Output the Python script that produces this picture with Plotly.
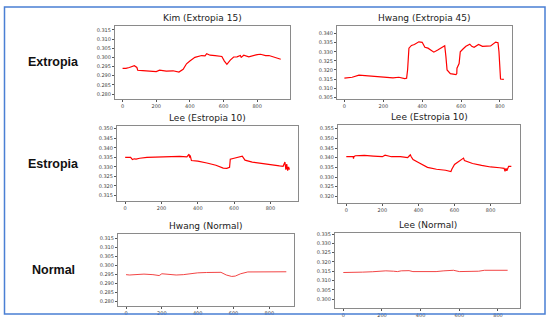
import plotly.graph_objects as go

# ---------- data ----------
kim_x = [0, 20, 40, 70, 85, 90, 120, 160, 200, 220, 260, 300, 320, 335, 360, 380, 400, 430, 470, 490, 500, 520, 550, 590, 605, 620, 640, 660, 680, 700, 705, 720, 750, 780, 800, 820, 850, 870, 900, 940]
kim_y = [0.2940, 0.2940, 0.2945, 0.2955, 0.2945, 0.2930, 0.2928, 0.2925, 0.2923, 0.2930, 0.2925, 0.2927, 0.2925, 0.2920, 0.2935, 0.2965, 0.2980, 0.3000, 0.3010, 0.3008, 0.3020, 0.3012, 0.3010, 0.3005, 0.2980, 0.2962, 0.2985, 0.3002, 0.3003, 0.3010, 0.3000, 0.3012, 0.3003, 0.3012, 0.3015, 0.3017, 0.3010, 0.3010, 0.3003, 0.2990]

hwe_x = [0, 40, 75, 100, 150, 200, 250, 280, 310, 320, 325, 332, 345, 360, 383, 400, 414, 430, 460, 480, 500, 516, 522, 528, 545, 567, 574, 578, 579, 590, 596, 610, 625, 645, 655, 667, 690, 710, 752, 778, 790, 795, 800, 803, 820]
hwe_y = [0.3155, 0.3160, 0.3172, 0.3170, 0.3163, 0.3160, 0.3157, 0.3160, 0.3152, 0.3155, 0.3200, 0.3320, 0.3335, 0.3340, 0.3355, 0.3352, 0.3325, 0.3320, 0.3298, 0.3310, 0.3325, 0.3333, 0.3275, 0.3200, 0.3180, 0.3175, 0.3175, 0.3180, 0.3210, 0.3235, 0.3300, 0.3315, 0.3330, 0.3342, 0.3330, 0.3325, 0.3340, 0.3330, 0.3332, 0.3353, 0.3350, 0.3300, 0.3220, 0.3150, 0.3148]

lee1_x = [0, 30, 40, 50, 60, 80, 120, 200, 250, 300, 340, 352, 355, 358, 365, 400, 450, 500, 540, 560, 575, 579, 600, 630, 645, 660, 700, 750, 800, 850, 870, 880, 885, 890, 895, 900, 905]
lee1_y = [0.3350, 0.3350, 0.3338, 0.3342, 0.3340, 0.3345, 0.3350, 0.3352, 0.3357, 0.3355, 0.3352, 0.3366, 0.3348, 0.3360, 0.3333, 0.3330, 0.3320, 0.3308, 0.3293, 0.3292, 0.3297, 0.3340, 0.3345, 0.3350, 0.3356, 0.3335, 0.3325, 0.3318, 0.3310, 0.3305, 0.3303, 0.3325, 0.3285, 0.3314, 0.3280, 0.3300, 0.3285]

lee2_x = [0, 38, 40, 42, 50, 100, 150, 200, 215, 250, 300, 340, 350, 355, 360, 370, 400, 450, 500, 550, 580, 585, 600, 620, 640, 650, 655, 670, 700, 750, 800, 850, 875, 880, 885, 890, 900, 915]
lee2_y = [0.3405, 0.3405, 0.3395, 0.3405, 0.3410, 0.3412, 0.3408, 0.3405, 0.3413, 0.3405, 0.3405, 0.3400, 0.3410, 0.3415, 0.3405, 0.3390, 0.3375, 0.3350, 0.3340, 0.3335, 0.3328, 0.3340, 0.3365, 0.3378, 0.3390, 0.3398, 0.3385, 0.3380, 0.3370, 0.3360, 0.3352, 0.3348, 0.3345, 0.3330, 0.3345, 0.3332, 0.3355, 0.3355]

hwn_x = [0, 20, 50, 100, 150, 185, 200, 230, 280, 320, 400, 450, 500, 530, 560, 590, 610, 640, 680, 750, 800, 850, 895]
hwn_y = [0.2950, 0.2948, 0.2950, 0.2953, 0.2950, 0.2945, 0.2955, 0.2952, 0.2948, 0.2950, 0.2960, 0.2962, 0.2965, 0.2963, 0.2948, 0.2940, 0.2942, 0.2955, 0.2965, 0.2965, 0.2968, 0.2968, 0.2966]

len_x = [0, 50, 100, 150, 200, 220, 260, 280, 300, 340, 360, 400, 450, 480, 520, 570, 600, 650, 700, 730, 800, 850]
len_y = [0.3143, 0.3142, 0.3145, 0.3147, 0.3150, 0.3152, 0.3150, 0.3148, 0.3152, 0.3153, 0.3148, 0.3148, 0.3145, 0.3148, 0.3152, 0.3155, 0.3148, 0.3148, 0.3150, 0.3155, 0.3155, 0.3155]

titles = ["Kim (Extropia 15)", "Hwang (Extropia 45)", "Lee (Estropia 10)",
          "Lee (Estropia 10)", "Hwang (Normal)", "Lee (Normal)"]
row_labels = ["Extropia", "Estropia", "Normal"]
x_ticks = [0, 200, 400, 600, 800]
y_ticks = [
    [0.280, 0.285, 0.290, 0.295, 0.300, 0.305, 0.310, 0.315],
    [0.305, 0.310, 0.315, 0.320, 0.325, 0.330, 0.335, 0.340],
    [0.315, 0.320, 0.325, 0.330, 0.335, 0.340, 0.345, 0.350],
    [0.320, 0.325, 0.330, 0.335, 0.340, 0.345, 0.350, 0.355],
    [0.280, 0.285, 0.290, 0.295, 0.300, 0.305, 0.310, 0.315],
    [0.300, 0.305, 0.310, 0.315, 0.320, 0.325, 0.330, 0.335],
]

# ---------- layout geometry (pixels) ----------
W, H = 550, 321
boxes = [  # x0, x1, y0, y1 (top-down pixels)
    (115, 290, 24, 98),
    (337, 512, 24, 98),
    (117, 298, 125, 201),
    (338, 520, 124, 203),
    (118, 294, 234, 307),
    (335, 520, 233, 309),
]
x_ranges = [[-45, 995], [-38, 862], [-45, 952], [-46, 963], [-45, 938], [-43, 914]]
y_ranges = [[0.2773, 0.3172], [0.3040, 0.3443], [0.3120, 0.3515],
            [0.3165, 0.3570], [0.2775, 0.3177], [0.2951, 0.3357]]
series = [(kim_x, kim_y), (hwe_x, hwe_y), (lee1_x, lee1_y),
          (lee2_x, lee2_y), (hwn_x, hwn_y), (len_x, len_y)]
line_widths = [1.2, 1.2, 1.2, 1.2, 0.9, 0.9]
line_colors = ["#ff0000", "#ff0000", "#ff0000", "#ff0000", "#f03030", "#f03030"]

fig = go.Figure()
layout = dict(
    width=W, height=H, margin=dict(l=0, r=0, t=0, b=0),
    paper_bgcolor="white", plot_bgcolor="white", showlegend=False,
    font=dict(family="DejaVu Sans", color="#333333"),
)
annotations = []
for i, (bx, (xs, ys)) in enumerate(zip(boxes, series)):
    n = "" if i == 0 else str(i + 1)
    fig.add_trace(go.Scatter(x=xs, y=ys, mode="lines",
                             line=dict(color=line_colors[i], width=line_widths[i]),
                             xaxis="x" + n, yaxis="y" + n, hoverinfo="skip"))
    x0, x1, y0, y1 = bx
    common = dict(showline=True, linecolor="#8a8a8a", linewidth=1, mirror=True,
                  showgrid=False, zeroline=False, ticks="outside", ticklen=2,
                  tickwidth=0.6, tickcolor="#555555",
                  tickfont=dict(size=5, color="#444444", family="DejaVu Sans"))
    layout["xaxis" + n] = dict(domain=[x0 / W, x1 / W], range=x_ranges[i],
                               anchor="y" + n, tickvals=x_ticks,
                               ticktext=[str(t) for t in x_ticks], **common)
    layout["yaxis" + n] = dict(domain=[1 - y1 / H, 1 - y0 / H], range=y_ranges[i],
                               anchor="x" + n, tickvals=y_ticks[i],
                               ticktext=["%.3f" % v for v in y_ticks[i]], **common)
    annotations.append(dict(text=titles[i], x=(x0 + x1) / 2 / W, y=1 - (y0 - 1) / H,
                            xref="paper", yref="paper", xanchor="center", yanchor="bottom",
                            showarrow=False,
                            font=dict(size=9, color="#222222", family="DejaVu Sans")))

row_y = [61, 164, 271]
for lbl, yy in zip(row_labels, row_y):
    annotations.append(dict(text="<b>%s</b>" % lbl, x=53 / W, y=1 - yy / H,
                            xref="paper", yref="paper", xanchor="center", yanchor="middle",
                            showarrow=False,
                            font=dict(size=12.5, color="#111111", family="Liberation Sans")))

layout["annotations"] = annotations
layout["shapes"] = [dict(type="rect", xref="paper", yref="paper",
                         x0=4.5 / W, x1=545 / W, y0=1 - 315 / H, y1=1 - 5 / H,
                         line=dict(color="#4a7fd4", width=1.5))]
fig.update_layout(**layout)
fig.write_html("out.html", config={"displayModeBar": False},
               post_script="document.body.style.margin='0';document.body.style.overflow='hidden';")
